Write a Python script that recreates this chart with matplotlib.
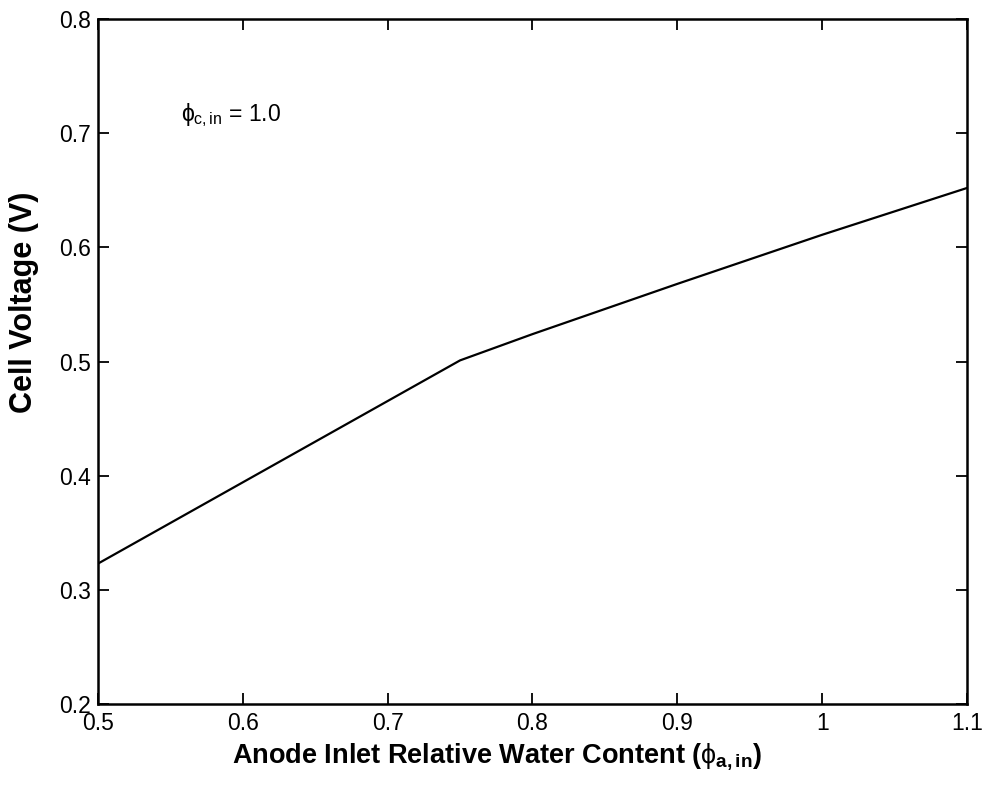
import numpy as np
import matplotlib
matplotlib.use("Agg")
import matplotlib.pyplot as plt

# values
phi_a = [0.5, 0.75, 0.8, 0.9, 1.0, 1.1]
voltage = [0.323, 0.501, 0.524, 0.568, 0.611, 0.652]
xticks = [0.5, 0.6, 0.7, 0.8, 0.9, 1.0, 1.1]
xtick_labels = ["0.5", "0.6", "0.7", "0.8", "0.9", "1", "1.1"]
yticks = [0.2, 0.3, 0.4, 0.5, 0.6, 0.7, 0.8]

plt.rcParams.update({
    "font.family": ["Liberation Sans", "DejaVu Sans"],
    "mathtext.fontset": "custom",
    "mathtext.rm": "Liberation Sans",
    "mathtext.it": "Liberation Sans",
    "mathtext.bf": "Liberation Sans:bold",
})

fig = plt.figure(figsize=(9.87, 7.86), dpi=100)
ax = fig.add_axes([0.0993, 0.1043, 0.8804, 0.8715])

ax.plot(phi_a, voltage, color="black", lw=1.6)

ax.set_xlim(0.5, 1.1)
ax.set_ylim(0.2, 0.8)
ax.set_xticks(xticks)
ax.set_xticklabels(xtick_labels)
ax.set_yticks(yticks)
ax.tick_params(direction="in", length=8, width=1.3, labelsize=16.5,
               top=True, right=True)
ax.tick_params(axis="x", pad=6)
ax.tick_params(axis="y", pad=5)
for sp in ax.spines.values():
    sp.set_linewidth(1.8)

ax.set_xlabel(r"Anode Inlet Relative Water Content ($\phi_{\mathbf{a,in}}$)",
              fontsize=19.5, fontweight="bold", va="center")
ax.set_ylabel("Cell Voltage (V)", fontsize=22, fontweight="bold", va="center")
# the original labels sit off-centre
ax.xaxis.set_label_coords(0.459, -0.077)
ax.yaxis.set_label_coords(-0.085, 0.587)

ax.text(0.557, 0.716, r"$\phi_{c,in}$ = 1.0", fontsize=16.5, va="center")

fig.savefig("out.png", dpi=100)
